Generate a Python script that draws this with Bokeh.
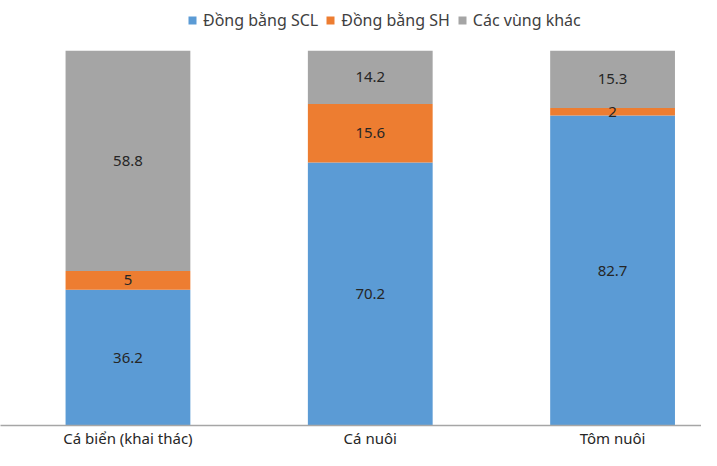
from bokeh.plotting import figure
from bokeh.models import ColumnDataSource, Range1d, FixedTicker, Legend, LegendItem, LabelSet
from bokeh.embed import file_html
from bokeh.resources import INLINE
from bokeh.core.properties import value

categories = ["Cá biển (khai thác)", "Cá nuôi", "Tôm nuôi"]
series_names = ["Đồng bằng SCL", "Đồng bằng SH", "Các vùng khác"]
scl = [36.2, 70.2, 82.7]
sh = [5, 15.6, 2]
other = [58.8, 14.2, 15.3]
colors = ["#5B9BD5", "#ED7D31", "#A5A5A5"]

FONT = "Noto Sans"

xs = list(range(len(categories)))
data = {"x": xs, "scl": scl, "sh": sh, "other": other}
src = ColumnDataSource(data)

p = figure(width=701, height=450, output_backend="svg", toolbar_location=None,
           x_range=Range1d(-0.526, 2.367), y_range=Range1d(0, 113.4),
           min_border_left=0, min_border_right=0, min_border_top=0, min_border_bottom=0)

renderers = p.vbar_stack(["scl", "sh", "other"], x="x", width=0.515, source=src,
                         color=colors, line_color=None)

# data labels
lx, ly, lt = [], [], []
for i in xs:
    base = 0
    for vals in (scl, sh, other):
        v = vals[i]
        lx.append(i)
        ly.append(base + v / 2)
        lt.append(f"{v:g}")
        base += v
lsrc = ColumnDataSource(dict(x=lx, y=ly, t=lt))
p.add_layout(LabelSet(x="x", y="y", text="t", source=lsrc, text_align="center",
                      text_baseline="middle", text_font=value(FONT), text_font_size="15px",
                      text_color="#262626"))

legend = Legend(items=[LegendItem(label=n, renderers=[r]) for n, r in zip(series_names, renderers)],
                location=(187, 394), orientation="horizontal",
                border_line_alpha=0, background_fill_alpha=0,
                label_text_font=FONT, label_text_font_size="16px", label_text_color="#404040",
                glyph_width=10, glyph_height=10, spacing=7, label_standoff=6,
                margin=0, padding=0, label_height=18)
p.add_layout(legend)

p.yaxis.visible = False
p.xgrid.visible = False
p.ygrid.visible = False
p.outline_line_color = None
p.xaxis.ticker = FixedTicker(ticks=xs)
p.xaxis.major_label_overrides = {i: c for i, c in zip(xs, categories)}
p.xaxis.major_tick_line_color = None
p.xaxis.minor_tick_line_color = None
p.xaxis.major_tick_out = 0
p.xaxis.major_tick_in = 0
p.xaxis.axis_line_color = "#A6A6A6"
p.xaxis.axis_line_width = 1.5
p.xaxis.major_label_text_font = FONT
p.xaxis.major_label_text_font_size = "15px"
p.xaxis.major_label_text_color = "#262626"
p.xaxis.major_label_standoff = 2

open("out.html", "w").write(file_html(p, INLINE))
